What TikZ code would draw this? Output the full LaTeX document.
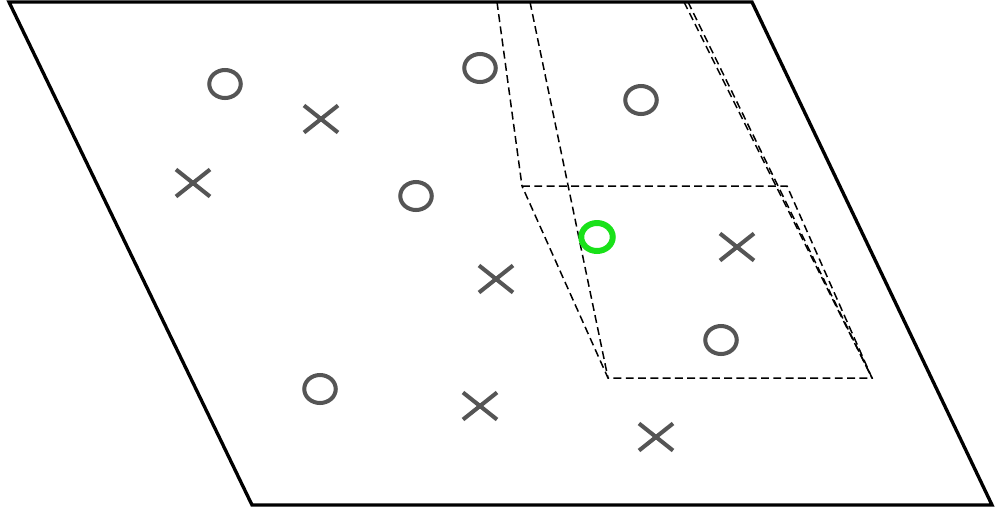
\documentclass[tikz,border=0pt]{standalone}
\usetikzlibrary{shapes.geometric, shapes.misc}

\definecolor{markgray}{RGB}{85,85,85}
\definecolor{markgreen}{RGB}{25,225,25}

\begin{document}
\begin{tikzpicture}[
    x=0.02cm, y=-0.02cm,
    plane/.style={
        draw=black, line width=1.9pt, line join=miter
    },
    guide/.style={
        draw=black, line width=0.85pt,
        dash pattern=on 4.5pt off 2.5pt
    },
    omark/.style={
        ellipse, draw=markgray, line width=2.3pt,
        minimum width=0.63cm, minimum height=0.56cm,
        inner sep=0pt
    },
    omarkhighlight/.style={omark, draw=markgreen, line width=3.4pt},
    xmark/.style={
        cross out, draw=markgray, line width=2.3pt,
        minimum width=0.6cm, minimum height=0.46cm,
        inner sep=0pt
    }
]
\useasboundingbox (0,0) rectangle (997,508);

% the plane
\coordinate (ptl) at (9,2);
\coordinate (ptr) at (752,2);
\coordinate (pbr) at (992,505);
\coordinate (pbl) at (252,505);
\draw[plane] (ptl) -- (ptr) -- (pbr) -- (pbl) -- cycle;

% the window and its guide lines
\coordinate (wtl) at (522,186);
\coordinate (wtr) at (787,186);
\coordinate (wbr) at (872,378);
\coordinate (wbl) at (608,378);
\draw[guide] (wtl) -- (wtr) -- (wbr) -- (wbl) -- cycle;

\coordinate (ga) at (497,2);
\coordinate (gb) at (530,2);
\coordinate (gc) at (684,2);
\coordinate (gd) at (688,2);
\draw[guide] (ga) -- (wtl);
\draw[guide] (gb) -- (wbl);
\draw[guide] (gc) -- (wbr);
\draw[guide] (gd) -- (wbr);

% the samples
\node[omark] at (225,84)  (o1) {};
\node[omark] at (480,68)  (o2) {};
\node[omark] at (641,100) (o3) {};
\node[omark] at (416,196) (o4) {};
\node[omark] at (320,389) (o5) {};
\node[omark] at (721,340) (o6) {};
\node[omarkhighlight] at (597,237) (oq) {};

\node[xmark] at (321,119) (x1) {};
\node[xmark] at (193,183) (x2) {};
\node[xmark] at (496,279) (x3) {};
\node[xmark] at (737,247) (x4) {};
\node[xmark] at (480,406) (x5) {};
\node[xmark] at (656,437) (x6) {};

\end{tikzpicture}
\end{document}
